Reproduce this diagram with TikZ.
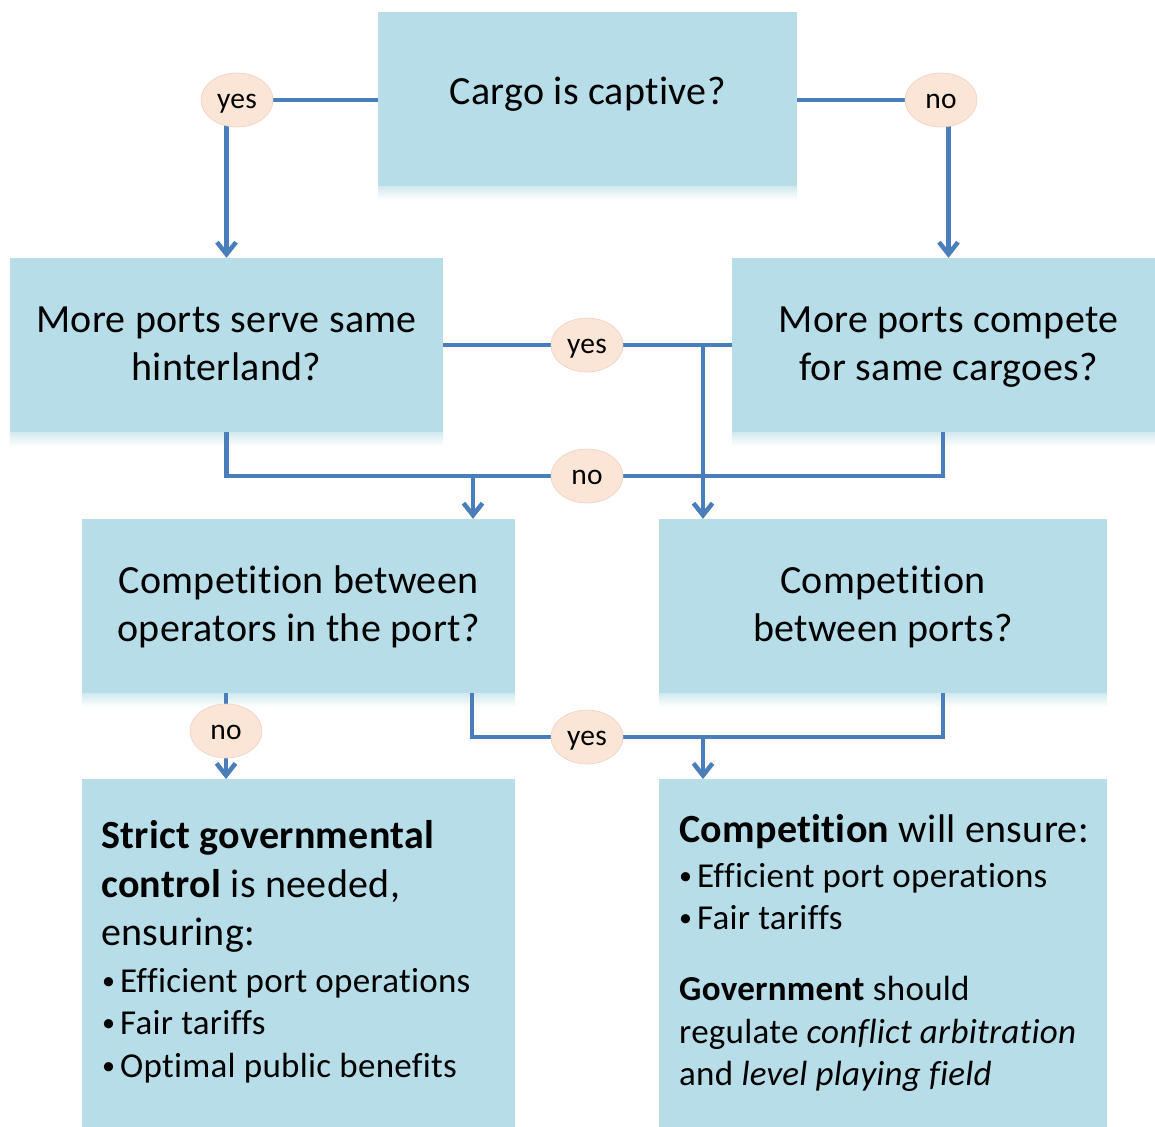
\documentclass[tikz,border=0pt]{standalone}
\usepackage{fontspec}
\setmainfont{Carlito}[Ligatures=NoCommon, LetterSpace=0.8]
\usetikzlibrary{arrows.meta,shapes.geometric}
\definecolor{boxfill}{HTML}{B7DDE8}
\definecolor{shadowc}{HTML}{D3E9EF}
\definecolor{ellfill}{HTML}{FBE5D6}
\definecolor{ellline}{HTML}{EAD3C4}
\definecolor{conncol}{HTML}{4A7EBB}
\newcommand\topst{\rule{0pt}{30pt}}
\newcommand\botst{\rule[-7pt]{0pt}{7pt}}
\newcommand\bul{\makebox[18pt][l]{\raisebox{3pt}{\fontsize{26}{26}\selectfont•}}}
\newcommand\boxshade[1]{\shade[top color=shadowc, bottom color=white] (#1.south west) rectangle ([yshift=-14pt]#1.south east);}
\pgfdeclarelayer{fg}
\pgfsetlayers{main,fg}
\begin{document}
\begin{tikzpicture}[x=1pt,y=-1pt,
  boxbase/.style={rectangle, fill=boxfill, inner sep=0pt},
  qbox/.style={boxbase, minimum height=174pt, align=center,
    font=\fontsize{40}{48.5}\selectfont},
  rbox/.style={boxbase, anchor=north, minimum height=380pt},
  ell/.style={ellipse, fill=ellfill, draw=ellline, line width=0.6pt,
    minimum width=72pt, minimum height=54pt, inner sep=0pt,
    font=\fontsize{29.5}{35}\selectfont, text height=20pt, text depth=3pt},
  big/.style={anchor=base west, inner sep=0pt, font=\fontsize{40}{48}\selectfont},
  small/.style={anchor=base west, inner sep=0pt, font=\fontsize{35}{42}\selectfont},
  conn/.style={draw=conncol, line width=4.5pt},
  arr/.style={-{Straight Barb[length=12pt,width=19pt]}}
]
\useasboundingbox (0,0) rectangle (1155,1126);
\fill[white] (0,0) rectangle (1155,1126);
\clip (0,0) rectangle (1155,1126);

% question boxes
\node[qbox, minimum width=419pt, text height=32pt, text depth=20pt] (cargo) at (587.5,99) {Cargo is captive?};
\node[qbox, minimum width=433pt] (qL) at (226.5,345) {\topst More ports serve same\\hinterland?\botst};
\node[qbox, minimum width=433pt] (qR) at (948.5,345) {\topst More ports compete\\for same cargoes?\botst};
\node[qbox, minimum width=433pt] (cO) at (298.5,606) {\topst Competition between\\operators in the port?\botst};
\node[qbox, minimum width=448pt] (cP) at (883,606) {\topst Competition\\between ports?\botst};

% result boxes
\node[rbox, minimum width=433pt] (rL) at (298.5,779) {};
\node[rbox, minimum width=448pt] (rR) at (883,779) {};

% soft shadows below the boxes
\boxshade{cargo}
\boxshade{qL}
\boxshade{qR}
\boxshade{cO}
\boxshade{cP}

% left result text
\node[big] (l1) at (101,848) {\textbf{Strict governmental}};
\node[big] (l2) at (101,897) {\textbf{control} is needed,};
\node[big] (l3) at (101,945) {ensuring:};
\node[small] (l4) at (102,992) {\bul Efficient port operations};
\node[small] (l5) at (102,1034) {\bul Fair tariffs};
\node[small] (l6) at (102,1077) {\bul Optimal public benefits};

% right result text
\node[big] (r1) at (679,842) {\textbf{Competition} will ensure:};
\node[small] (r2) at (679,887) {\bul Efficient port operations};
\node[small] (r3) at (679,929) {\bul Fair tariffs};
\node[small] (r4) at (679,1000) {\textbf{Government} should};
\node[small] (r5) at (679,1043) {regulate \textit{conflict arbitration}};
\node[small] (r6) at (679,1085) {and \textit{level playing field}};

% decision labels
\begin{pgfonlayer}{fg}
\node[ell] (yes1) at (237,100) {yes};
\node[ell] (no1) at (941,100) {no};
\node[ell] (yes2) at (587,345) {yes};
\node[ell] (no2) at (587,476) {no};
\node[ell] (no3) at (226,731) {no};
\node[ell] (yes3) at (587,737) {yes};
\end{pgfonlayer}

% junction coordinates
\coordinate (j1) at (703,345);
\coordinate (j2) at (473,476);
\coordinate (j3) at (943,476);
\coordinate (j4) at (472,737);
\coordinate (j5) at (943,737);
\coordinate (j6) at (703,737);

% connectors
\draw[conn] (cargo.west |- yes1.center) -- (yes1.center);
\draw[conn,arr] (qL.north |- yes1.center) -- (qL.north);
\draw[conn] (cargo.east |- no1.center) -- (no1.center);
\draw[conn,arr] (qR.north |- no1.center) -- (qR.north);

\draw[conn] (qL.east) -- (qR.west);
\draw[conn,arr] (j1) -- (j1 |- cO.north);

\draw[conn] (qL.south) |- (j3) -- (j3 |- qR.south);
\draw[conn,arr] (j2) -- (j2 |- cO.north);

\draw[conn,arr] (no3 |- cO.south) -- (no3 |- rL.north);

\draw[conn] (j4 |- cO.south) -- (j4) -- (j5) -- (j5 |- cP.south);
\draw[conn,arr] (j6) -- (j6 |- rR.north);
\end{tikzpicture}
\end{document}
